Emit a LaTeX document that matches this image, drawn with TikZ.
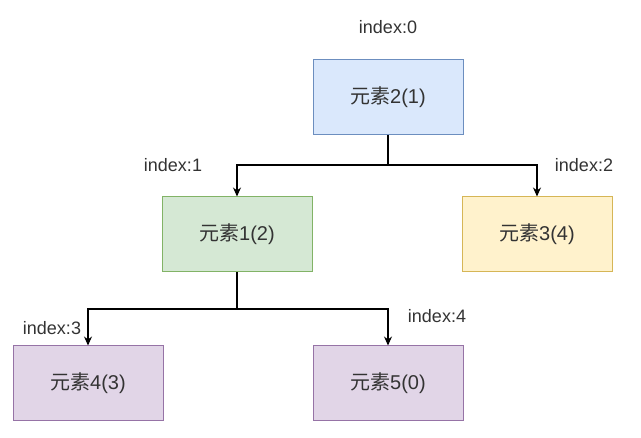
\documentclass[tikz,border=0pt]{standalone}
\usepackage{fontspec}
\setmainfont{Liberation Sans}
\newfontfamily\cjk{Noto Sans CJK SC}
\usetikzlibrary{arrows.meta}
\definecolor{dioblue}{HTML}{DAE8FC}
\definecolor{dioblueline}{HTML}{6C8EBF}
\definecolor{diogreen}{HTML}{D5E8D4}
\definecolor{diogreenline}{HTML}{82B366}
\definecolor{dioyellow}{HTML}{FFF2CC}
\definecolor{dioyellowline}{HTML}{D6B656}
\definecolor{diopurple}{HTML}{E1D5E7}
\definecolor{diopurpleline}{HTML}{9673A6}
\definecolor{diotext}{HTML}{333333}

\begin{document}
\begin{tikzpicture}[x=1pt, y=-1pt, line width=1.2pt, >={Stealth[length=9pt, width=8pt]},
    heapbox/.style={rectangle, minimum width=150pt, minimum height=75pt, inner sep=0pt,
      line width=1pt, font=\fontsize{20}{24}\selectfont, text=diotext},
    idx/.style={font=\fontsize{18}{21}\selectfont, text=diotext, inner sep=0pt}]
  \useasboundingbox (0,0) rectangle (641,438);
  % heap nodes
  \node[heapbox, fill=dioblue, draw=dioblueline] (e2) at (388,97.5) {{\cjk 元素}2(1)};
  \node[heapbox, fill=diogreen, draw=diogreenline] (e1) at (237,234.5) {{\cjk 元素}1(2)};
  \node[heapbox, fill=dioyellow, draw=dioyellowline] (e3) at (537,234.5) {{\cjk 元素}3(4)};
  \node[heapbox, fill=diopurple, draw=diopurpleline] (e4) at (88,383.5) {{\cjk 元素}4(3)};
  \node[heapbox, fill=diopurple, draw=diopurpleline] (e5) at (388,383.5) {{\cjk 元素}5(0)};
  % index labels
  \node[idx] (i0) at (388,27) {index:0};
  \node[idx] (i1) at (173,165) {index:1};
  \node[idx] (i2) at (584,165) {index:2};
  \node[idx] (i3) at (52,328) {index:3};
  \node[idx] (i4) at (437,316.5) {index:4};
  % branch points
  \coordinate (j2) at (388,165);
  \coordinate (j1) at (237,309);
  % connectors
  \draw[->] (e2.south) -- (j2) -| (e1.north);
  \draw[->] (j2) -| (e3.north);
  \draw[->] (e1.south) -- (j1) -| (e4.north);
  \draw[->] (j1) -| (e5.north);
\end{tikzpicture}
\end{document}
